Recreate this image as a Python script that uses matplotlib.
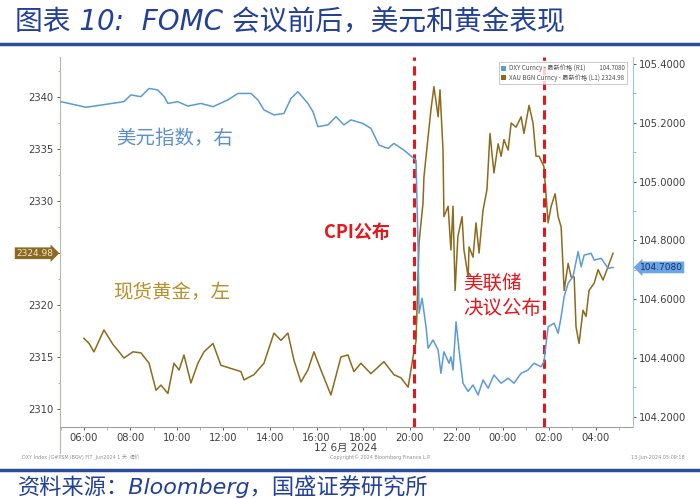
import matplotlib
matplotlib.use('Agg')
import matplotlib.pyplot as plt
from matplotlib.lines import Line2D
from matplotlib.patches import Patch
from matplotlib.ticker import MultipleLocator, FuncFormatter

plt.rcParams['font.family'] = ['DejaVu Sans', 'Noto Sans CJK SC']

# hours after 00:00 on 12 Jun (values > 24 are the next day)
dxy_t = [5.01, 6.09, 7.72, 8.02, 8.45, 8.80, 9.17, 9.45, 9.61, 10.03,
         10.47, 11.03, 11.55, 12.19, 12.62, 13.18, 13.48, 13.74, 14.17, 14.60,
         14.90, 15.20, 15.63, 15.85, 16.06, 16.49, 16.84, 17.18, 17.48, 17.99,
         18.34, 18.69, 19.08, 19.33, 19.76, 20.19,
         20.28, 20.37, 20.41, 20.54, 20.71, 20.80, 21.01, 21.23, 21.35, 21.48,
         21.70, 21.78, 21.87, 22.00, 22.13, 22.30, 22.52, 22.73, 22.95, 23.16,
         23.38, 23.63, 23.94, 24.24, 24.49, 24.80, 25.10, 25.35, 25.66, 25.78,
         25.96, 26.22, 26.39, 26.52, 26.65, 26.82, 27.03, 27.25, 27.38, 27.51,
         27.81, 27.94, 28.24, 28.54, 28.75]
dxy_v = [105.272, 105.253, 105.272, 105.295, 105.289, 105.317, 105.312, 105.289, 105.266, 105.272,
         105.257, 105.266, 105.255, 105.278, 105.300, 105.300, 105.278, 105.244, 105.227, 105.232,
         105.283, 105.306, 105.266, 105.238, 105.187, 105.193, 105.221, 105.193, 105.210, 105.198,
         105.181, 105.124, 105.113, 105.130, 105.107, 105.079,
         105.073, 104.767, 104.552, 104.603, 104.506, 104.433, 104.461, 104.427, 104.348, 104.421,
         104.382, 104.404, 104.359, 104.523, 104.427, 104.314, 104.286, 104.308, 104.274, 104.325,
         104.297, 104.342, 104.314, 104.331, 104.314, 104.348, 104.359, 104.382, 104.370, 104.387,
         104.506, 104.518, 104.484, 104.540, 104.609, 104.654, 104.677, 104.762, 104.710, 104.750,
         104.756, 104.733, 104.739, 104.705, 104.708]

gold_t = [6.00, 6.22, 6.43, 6.86, 7.25, 7.51, 7.72, 8.11, 8.45, 8.80,
          9.10, 9.31, 9.61, 9.87, 10.09, 10.30, 10.60, 10.90, 11.16, 11.55,
          11.89, 12.32, 12.75, 12.88, 13.31, 13.74, 14.17, 14.47, 14.77, 15.03,
          15.33, 15.63, 15.89, 16.19, 16.62, 17.05, 17.35, 17.61, 17.91, 18.34,
          18.90, 19.33, 19.63, 19.94, 20.15, 20.28,
          20.41, 20.58, 20.62, 20.80, 20.92, 21.05, 21.23, 21.31, 21.44, 21.48,
          21.66, 21.78, 21.87, 21.96, 22.08, 22.26, 22.34, 22.52, 22.56, 22.73,
          22.86, 22.99, 23.16, 23.33, 23.46, 23.63, 23.81, 23.94, 24.06, 24.24,
          24.37, 24.58, 24.80, 24.92, 25.14, 25.31, 25.44, 25.57, 25.78, 25.96,
          26.09, 26.26, 26.39, 26.52, 26.65, 26.82, 26.95, 27.08, 27.16, 27.29,
          27.46, 27.59, 27.72, 27.94, 28.11, 28.32, 28.54, 28.75]
gold_v = [2316.8, 2316.3, 2315.5, 2317.6, 2316.2, 2315.5, 2314.9, 2315.5, 2315.4, 2314.4,
          2311.8, 2312.3, 2311.5, 2314.4, 2313.75, 2315.2, 2312.5, 2314.4, 2315.5, 2316.3,
          2314.2, 2313.9, 2313.6, 2312.8, 2313.3, 2314.4, 2317.3, 2316.6, 2317.3, 2314.7,
          2312.6, 2313.75, 2315.5, 2313.75, 2311.35, 2315.0, 2315.2, 2313.6, 2314.4, 2313.4,
          2314.55, 2313.3, 2313.0, 2312.1, 2315.0, 2316.5,
          2326.0, 2329.8, 2332.3, 2336.2, 2338.75, 2341.0, 2338.1, 2340.7, 2334.9, 2328.5,
          2329.5, 2325.3, 2329.5, 2321.4, 2326.6, 2328.5, 2325.3, 2322.7, 2325.6, 2324.6,
          2327.9, 2325.0, 2329.1, 2331.1, 2336.5, 2332.7, 2335.5, 2334.3, 2335.9, 2334.9,
          2337.5, 2337.1, 2338.1, 2336.5, 2339.2, 2337.5, 2334.3, 2334.3, 2333.3, 2327.9,
          2329.5, 2330.7, 2328.5, 2327.5, 2321.4, 2324.0, 2322.7, 2322.7, 2317.9, 2316.3,
          2319.5, 2318.9, 2321.4, 2322.1, 2323.4, 2322.4, 2323.7, 2324.98]

event_t = [20.19, 25.78]
gold_ticks = [2310, 2315, 2320, 2325, 2330, 2335, 2340]
gold_labels = ['2310', '2315', '2320', '', '2330', '2335', '2340']
dxy_ticks = [104.2, 104.4, 104.6, 104.8, 105.0, 105.2, 105.4]

blue = '#5b9bd5'
brown = '#8c6a1e'
navy = '#22409a'
red = '#e5161c'

fig = plt.figure(figsize=(7, 4.99), dpi=100)
ax = fig.add_axes([60/700, 1-427/499, 573/700, 370/499])
ax2 = ax.twinx()

ax.plot(gold_t, gold_v, color=brown, lw=1.1, zorder=3)
ax2.plot(dxy_t, dxy_v, color=blue, lw=1.1, zorder=2)
for t in event_t:
    ax.axvline(t, color=red, lw=2.2, ls=(0, (3, 1.8)), zorder=4)

ax.set_xlim(4.97, 29.61)
ax.set_ylim(2308.27, 2343.85)
ax2.set_ylim(104.165, 105.424)

ax.xaxis.set_major_locator(MultipleLocator(2))
ax.xaxis.set_minor_locator(MultipleLocator(1))
ax.xaxis.set_major_formatter(FuncFormatter(lambda h, p: f"{int(round(h)) % 24:02d}:00"))
ax.set_yticks(gold_ticks)
ax.set_yticklabels(gold_labels)
ax.yaxis.set_minor_locator(MultipleLocator(2.5))
ax2.set_yticks(dxy_ticks)
ax2.set_yticklabels([f"{v:.4f}" for v in dxy_ticks])
ax2.yaxis.set_minor_locator(MultipleLocator(0.1))

for a in (ax, ax2):
    a.tick_params(labelsize=7.2, colors='#404040', length=2.5, width=0.6, pad=2)
    a.tick_params(which='minor', length=1.8, width=0.5, colors='#909090')
    a.spines['top'].set_visible(False)
ax.tick_params(axis='x', pad=1.5)
ax.spines['right'].set_visible(False)
ax2.spines['left'].set_visible(False)
ax2.spines['bottom'].set_visible(False)
ax.spines['left'].set_color('#bdb5a5')
ax.spines['bottom'].set_color('#a0a0a0')
ax2.spines['right'].set_color('#9fc3e6')

# last-value tags
ax.text(-0.012, gold_v[-1], f"{gold_v[-1]:.2f}", transform=ax.get_yaxis_transform(),
        ha='right', va='center', fontsize=6.5, color='#f4e6c0',
        bbox=dict(boxstyle='rarrow,pad=0.15', fc='#8a6a25', ec='none'))
ax2.text(1.012, dxy_v[-1], f"{dxy_v[-1]:.4f}", transform=ax2.get_yaxis_transform(),
         ha='left', va='center', fontsize=6.5, color='#1a2f6a',
         bbox=dict(boxstyle='larrow,pad=0.15', fc='#6aa6e6', ec='none'))

handles = [Patch(fc=blue, ec='none'), Patch(fc=brown, ec='none')]
labels = [f"DXY Curncy - 最新价格 (R1)          {dxy_v[-1]:.4f}",
          f"XAU BGN Curncy - 最新价格 (L1) {gold_v[-1]:.2f}"]
leg = ax2.legend(handles, labels, loc='upper right', bbox_to_anchor=(0.995, 0.995),
                 prop={'size': 4.5, 'family': 'Noto Sans CJK SC'},
                 handlelength=0.8, handleheight=0.8,
                 handletextpad=0.4, borderpad=0.4, labelspacing=0.2,
                 frameon=True, fancybox=False, edgecolor='#b0b0b0')
leg.get_frame().set_linewidth(0.6)
for txt in leg.get_texts():
    txt.set_color('#505050')

# annotations
fig.text(175/700, 1-138/499, '美元指数，右', fontsize=14, color='#5b8fd0',
         family='Noto Sans CJK SC', ha='center', va='center')
fig.text(172/700, 1-293/499, '现货黄金，左', fontsize=14, color='#b8902a',
         family='Noto Sans CJK SC', ha='center', va='center')
fig.text(357/700, 1-233/499, 'CPI公布', fontsize=13, color=red, weight='bold',
         family='Noto Sans CJK SC', ha='center', va='center')
fig.text(463/700, 1-283/499, '美联储', fontsize=14, color=red,
         family='Noto Sans CJK SC', ha='left', va='center')
fig.text(463/700, 1-308/499, '决议公布', fontsize=14, color=red,
         family='Noto Sans CJK SC', ha='left', va='center')

fig.text(346/700, 1-448/499, '12 6月 2024', fontsize=7.5, color='#404040',
         ha='center', va='center')
fig.add_artist(Line2D([60/700, 60/700], [1-427/499, 1-453/499], color='#bdb5a5', lw=0.8))

# tiny footer
fig.text(22/700, 1-457/499, 'DXY Index (G#PSM IBOV) FIT  Jun2024 1 天  调价', fontsize=3.5,
         color='#909090', va='center')
fig.text(380/700, 1-457/499, 'Copyright© 2024 Bloomberg Finance L.P.', fontsize=3.5,
         color='#909090', ha='center', va='center')
fig.text(685/700, 1-457/499, '13-Jun-2024 05:09:18', fontsize=3.5,
         color='#909090', ha='right', va='center')

# title and source
fig.text(15/700, 1-22/499, '图表 10:  FOMC 会议前后，美元和黄金表现', fontsize=20,
         style='italic', weight='light', color=navy, va='center')
fig.add_artist(Line2D([0, 1], [1-44/499, 1-44/499], color='#2b4c9b', lw=2.5))
fig.add_artist(Line2D([0, 1], [1-470/499, 1-470/499], color='#2b4c9b', lw=2.5))
fig.text(18/700, 1-487/499, '资料来源：Bloomberg，国盛证券研究所', fontsize=16,
         style='italic', weight='light', color=navy, va='center')

fig.savefig('out.png', dpi=100)
